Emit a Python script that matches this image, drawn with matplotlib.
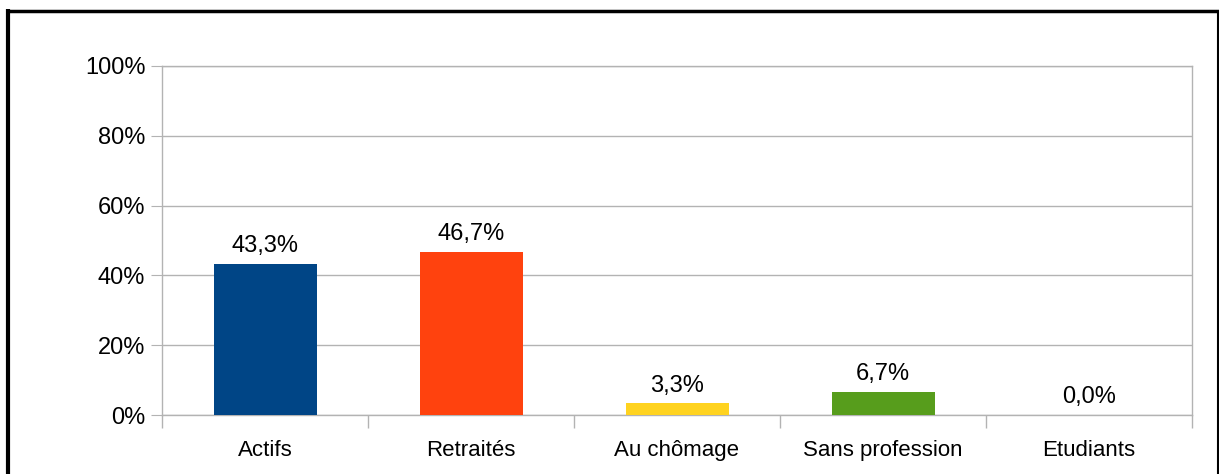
"""
Bar chart: share of respondents by occupational status.
"""

import matplotlib

matplotlib.use("Agg")
import matplotlib.pyplot as plt
from matplotlib.lines import Line2D

categories = ["Actifs", "Retraités", "Au chômage", "Sans profession", "Etudiants"]
values = [43.3, 46.7, 3.3, 6.7, 0.0]
colors = ["#004586", "#ff420e", "#ffd320", "#579d1c", "#7e0021"]
y_ticks = [0, 20, 40, 60, 80, 100]

GRID = "#b3b3b3"
W, H = 1219, 474

plt.rcParams["font.family"] = ["Liberation Sans", "DejaVu Sans"]

fig = plt.figure(figsize=(W / 100, H / 100), dpi=100)
ax = fig.add_axes([162 / W, 1 - 415 / H, (1192 - 162) / W, (415 - 66) / H])

x = list(range(len(categories)))
bars = ax.bar(x, values, width=0.5, color=colors, zorder=3)

for b, v in zip(bars, values):
    ax.annotate(
        f"{v:.1f}%".replace(".", ","),
        (b.get_x() + b.get_width() / 2, v),
        xytext=(0, 5),
        textcoords="offset points",
        ha="center",
        va="bottom",
        fontsize=17,
    )

ax.set_xlim(-0.5, len(categories) - 0.5)
ax.set_ylim(0, 100)
ax.set_yticks(y_ticks)
ax.set_yticklabels([f"{t}%" for t in y_ticks], fontsize=17)
ax.set_xticks(x)
ax.set_xticklabels(categories, fontsize=16)
ax.tick_params(axis="x", length=0, pad=18)
ax.tick_params(axis="y", length=8, color=GRID, pad=4)

# category boundary ticks below the axis
ax.set_xticks([i - 0.5 for i in range(len(categories) + 1)], minor=True)
ax.tick_params(axis="x", which="minor", length=9, color=GRID, width=1)

ax.grid(axis="y", color=GRID, linewidth=1, zorder=0)
for s in ax.spines.values():
    s.set_color(GRID)
    s.set_linewidth(1)

# outer frame (left, top, right)
frame = dict(color="black", transform=fig.transFigure, solid_capstyle="butt")
fig.add_artist(Line2D([8 / W, 8 / W], [0, 1 - 9 / H], linewidth=3, **frame))
fig.add_artist(Line2D([6 / W, 1219 / W], [1 - 10.5 / H, 1 - 10.5 / H], linewidth=2.5, **frame))
fig.add_artist(Line2D([1217.5 / W, 1217.5 / W], [0, 1 - 10.5 / H], linewidth=1.5, **frame))

fig.savefig("out.png", dpi=100)
